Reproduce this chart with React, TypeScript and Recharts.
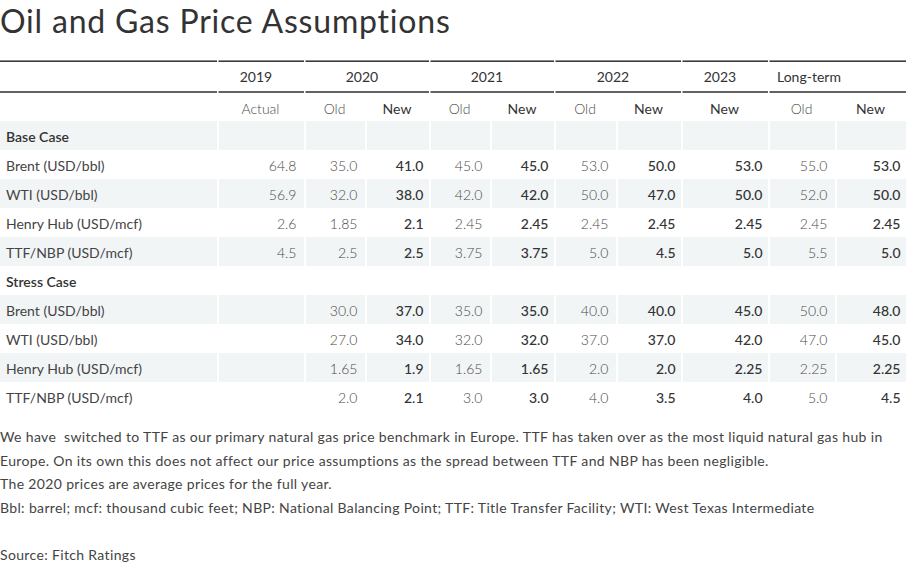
import React from "react";
import { BarChart, Bar, XAxis, YAxis } from "recharts";

const FONT = "Lato, 'Open Sans', sans-serif";
const STRIPE = "#f2f5f6"; // row banding
const RULE = "#3c3c3c";
const DARK = "#333333";
const LIGHT = "#4a4a4a";

const TITLE = "Oil and Gas Price Assumptions";
const YEARS = ["2019", "2020", "2021", "2022", "2023", "Long-term"];
const SUB_HEADS = ["Actual", "Old", "New", "Old", "New", "Old", "New", "New", "Old", "New"];
const SECTIONS = ["Base Case", "Stress Case"];
const ITEMS = ["Brent (USD/bbl)", "WTI (USD/bbl)", "Henry Hub (USD/mcf)", "TTF/NBP (USD/mcf)"];

// base case, one array per column (Brent, WTI, Henry Hub, TTF/NBP)
const BASE_2019_ACTUAL = [64.8, 56.9, 2.6, 4.5];
const BASE_2020_OLD = [35.0, 32.0, 1.85, 2.5];
const BASE_2020_NEW = [41.0, 38.0, 2.1, 2.5];
const BASE_2021_OLD = [45.0, 42.0, 2.45, 3.75];
const BASE_2021_NEW = [45.0, 42.0, 2.45, 3.75];
const BASE_2022_OLD = [53.0, 50.0, 2.45, 5.0];
const BASE_2022_NEW = [50.0, 47.0, 2.45, 4.5];
const BASE_2023_NEW = [53.0, 50.0, 2.45, 5.0];
const BASE_LT_OLD = [55.0, 52.0, 2.45, 5.5];
const BASE_LT_NEW = [53.0, 50.0, 2.45, 5.0];

// stress case
const STRESS_2019_ACTUAL = [null, null, null, null];
const STRESS_2020_OLD = [30.0, 27.0, 1.65, 2.0];
const STRESS_2020_NEW = [37.0, 34.0, 1.9, 2.1];
const STRESS_2021_OLD = [35.0, 32.0, 1.65, 3.0];
const STRESS_2021_NEW = [35.0, 32.0, 1.65, 3.0];
const STRESS_2022_OLD = [40.0, 37.0, 2.0, 4.0];
const STRESS_2022_NEW = [40.0, 37.0, 2.0, 3.5];
const STRESS_2023_NEW = [45.0, 42.0, 2.25, 4.0];
const STRESS_LT_OLD = [50.0, 47.0, 2.25, 5.0];
const STRESS_LT_NEW = [48.0, 45.0, 2.25, 4.5];

const NOTES = [
  "We have  switched to TTF as our primary natural gas price benchmark in Europe. TTF has taken over as the most liquid natural gas hub in",
  "Europe. On its own this does not affect our price assumptions as the spread between TTF and NBP has been negligible.",
  "The 2020 prices are average prices for the full year.",
  "Bbl: barrel; mcf: thousand cubic feet; NBP: National Balancing Point; TTF: Title Transfer Facility; WTI: West Texas Intermediate",
  "",
  "Source: Fitch Ratings",
];

// layout
const COL_W = [217, 87, 61, 64, 61, 64, 62, 65, 87, 67, 71];
const COL_GROUP = [0, 1, 2, 2, 3, 3, 4, 4, 5, 6, 6];
const TABLE_W = COL_W.reduce((a, b) => a + b, 0);
const HEAD_ROW = 30;
const BODY_ROW = 29;

const BASE_COLS = [
  BASE_2019_ACTUAL, BASE_2020_OLD, BASE_2020_NEW, BASE_2021_OLD, BASE_2021_NEW,
  BASE_2022_OLD, BASE_2022_NEW, BASE_2023_NEW, BASE_LT_OLD, BASE_LT_NEW,
];
const STRESS_COLS = [
  STRESS_2019_ACTUAL, STRESS_2020_OLD, STRESS_2020_NEW, STRESS_2021_OLD, STRESS_2021_NEW,
  STRESS_2022_OLD, STRESS_2022_NEW, STRESS_2023_NEW, STRESS_LT_OLD, STRESS_LT_NEW,
];

const fmt = (v: number | null) => {
  if (v == null) return "";
  return Math.abs(Math.round(v * 10) - v * 10) < 1e-9 ? v.toFixed(1) : String(v);
};

const withWidths = (row: any) => {
  COL_W.forEach((w, i) => (row[`c${i}`] = w));
  return row;
};

const headRows = [withWidths({ id: "years", kind: "years" }), withWidths({ id: "sub", kind: "sub" })];

const bodyRows: any[] = [];
([[SECTIONS[0], BASE_COLS], [SECTIONS[1], STRESS_COLS]] as [string, (number | null)[][]][]).forEach(
  ([name, cols]) => {
    bodyRows.push({ id: name, label: name, section: true, values: [] });
    ITEMS.forEach((item, j) =>
      bodyRows.push({ id: `${name}-${j}`, label: item, section: false, values: cols.map((c) => c[j]) })
    );
  }
);
bodyRows.forEach((r, k) => {
  r.striped = k % 2 === 0;
  withWidths(r);
});

const groupWidth = (g: number) => COL_W.reduce((s, w, i) => (COL_GROUP[i] === g ? s + w : s), 0);

const headCell = (i: number) => (props: any) => {
  const { x, y, width, payload } = props;
  const g = COL_GROUP[i];
  const first = i === 0 || COL_GROUP[i - 1] !== g;
  const gap = first && i > 0 ? 1.5 : 0;
  if (payload.kind === "years") {
    const gw = groupWidth(g);
    const isLT = g === 6;
    return (
      <g>
        <rect x={x + gap} y={y + 0.4} width={width - gap} height={1.6} fill={RULE} />
        <rect x={x + gap} y={y + 31.2} width={width - gap} height={1.6} fill={RULE} />
        {first && g > 0 && (
          <text
            x={isLT ? x + 9 : x + gw / 2 - 4.5}
            y={y + 22.3}
            textAnchor={isLT ? "start" : "middle"}
            fontFamily={FONT}
            fontSize={14}
            fill={DARK}
          >
            {YEARS[g - 1]}
          </text>
        )}
      </g>
    );
  }
  if (i === 0) return <g />;
  const head = SUB_HEADS[i - 1];
  const isNew = head === "New";
  return (
    <text
      x={x + width / 2}
      y={y + 23.5}
      textAnchor="middle"
      fontFamily={FONT}
      fontSize={14}
      fontWeight={isNew ? 400 : 300}
      fill={isNew ? DARK : LIGHT}
    >
      {head}
    </text>
  );
};

const bodyCell = (i: number) => (props: any) => {
  const { x, y, width, height, payload } = props;
  const gap = i > 0 ? 2 : 0;
  let label: React.ReactNode = null;
  if (i === 0) {
    label = (
      <text
        x={x + 6}
        y={y + 20.5}
        fontFamily={FONT}
        fontSize={14}
        fontWeight={payload.section ? 600 : 400}
        fill={payload.section ? DARK : "#444444"}
      >
        {payload.label}
      </text>
    );
  } else if (!payload.section) {
    const isNew = SUB_HEADS[i - 1] === "New";
    label = (
      <text
        x={x + width - (isNew ? 5.5 : 7.5)}
        y={y + 20.5}
        textAnchor="end"
        fontFamily={FONT}
        fontSize={14}
        fontWeight={isNew ? 500 : 300}
        fill={isNew ? DARK : LIGHT}
      >
        {fmt(payload.values[i - 1])}
      </text>
    );
  }
  return (
    <g>
      {payload.striped && <rect x={x + gap} y={y} width={width - gap} height={height} fill={STRIPE} />}
      {label}
    </g>
  );
};

function TableChart({ rows, rowH, cell }: { rows: any[]; rowH: number; cell: (i: number) => any }) {
  return (
    <BarChart
      layout="vertical"
      width={TABLE_W}
      height={rows.length * rowH}
      data={rows}
      margin={{ top: 0, right: 0, bottom: 0, left: 0 }}
      barCategoryGap={0}
      barGap={0}
    >
      <XAxis type="number" hide domain={[0, TABLE_W]} allowDataOverflow />
      <YAxis type="category" dataKey="id" hide width={0} />
      {COL_W.map((_, i) => (
        <Bar key={i} dataKey={`c${i}`} stackId="t" isAnimationActive={false} shape={cell(i)} />
      ))}
    </BarChart>
  );
}

export default function App() {
  return (
    <div
      style={{
        position: "absolute",
        left: 0,
        top: 0,
        width: 919,
        height: 575,
        background: "#fff",
        fontFamily: FONT,
        overflow: "hidden",
      }}
    >
      <div
        style={{
          position: "absolute",
          left: 0,
          top: 2,
          fontSize: 32,
          letterSpacing: 0.8,
          lineHeight: "38px",
          color: DARK,
          whiteSpace: "nowrap",
        }}
      >
        {TITLE}
      </div>
      <div style={{ position: "absolute", left: 0, top: 60 }}>
        <TableChart rows={headRows} rowH={HEAD_ROW} cell={headCell} />
      </div>
      <div style={{ position: "absolute", left: 0, top: 121 }}>
        <TableChart rows={bodyRows} rowH={BODY_ROW} cell={bodyCell} />
      </div>
      <div
        style={{
          position: "absolute",
          left: 0,
          top: 425,
          fontSize: 14,
          letterSpacing: 0.35,
          lineHeight: "23.6px",
          color: "#444",
        }}
      >
        {NOTES.map((n, k) => (
          <div key={k} style={{ whiteSpace: "pre", height: 23.6 }}>
            {n}
          </div>
        ))}
      </div>
    </div>
  );
}
